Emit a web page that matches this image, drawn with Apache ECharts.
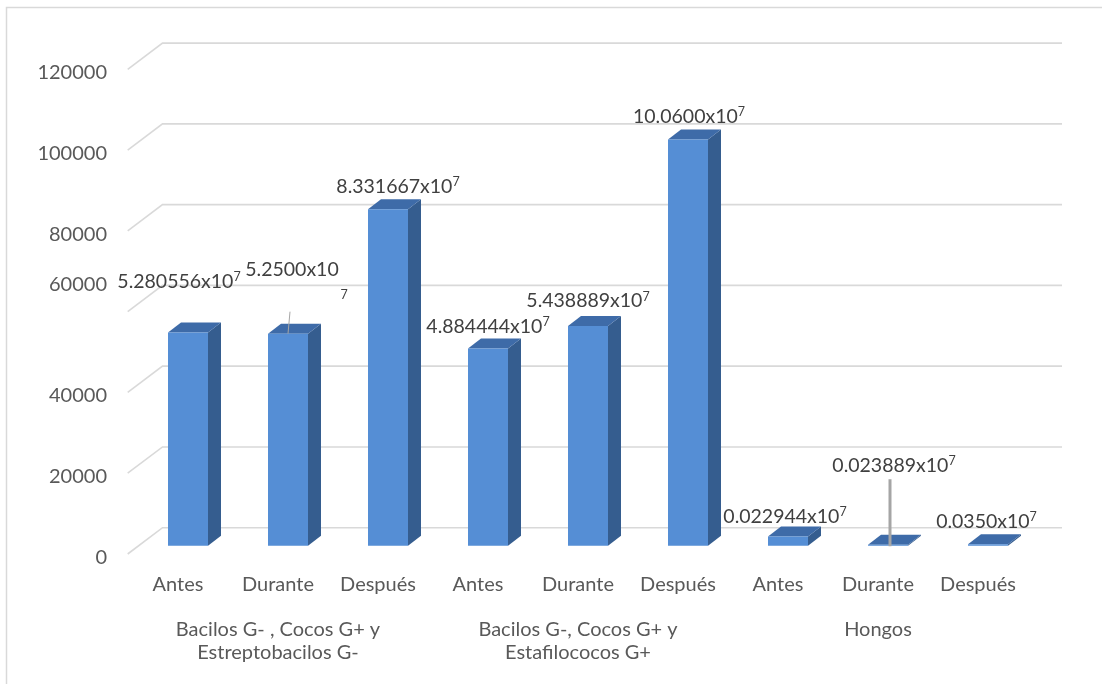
<!DOCTYPE html>
<html>
<head>
<meta charset="utf-8">
<script src="https://cdn.jsdelivr.net/npm/echarts@6/dist/echarts.min.js"></script>
<style>
  html, body { margin: 0; padding: 0; background: #ffffff; }
  #chart { width: 1102px; height: 684px; }
</style>
</head>
<body>
<div id="chart"></div>
<script>
// ---- data -------------------------------------------------------------
const categories = ['Antes', 'Durante', 'Después', 'Antes', 'Durante', 'Después', 'Antes', 'Durante', 'Después'];
const groups = ['Bacilos G- , Cocos G+ y\nEstreptobacilos G-', 'Bacilos G-, Cocos G+ y\nEstafilococos G+', 'Hongos'];
const values = [52805.56, 52500, 83316.67, 48844.44, 54388.89, 100600, 2294.44, 238.89, 350];
const labelMantissas = ['5.280556', '5.2500', '8.331667', '4.884444', '5.438889', '10.0600', '0.022944', '0.023889', '0.0350'];
const labelExponent = '7';
const yTicks = [0, 20000, 40000, 60000, 80000, 100000, 120000];

// ---- look & layout ----------------------------------------------------
const FONT = 'Lato, "Open Sans", sans-serif';
const TEXT_AXIS = '#595959';
const TEXT_LABEL = '#404040';
const GRID_COLOR = '#D9D9D9';
const FRONT = '#558ED5', TOP = '#3E6BA8', SIDE = '#355D8F';
const BAR_PLANE = -11.5;          // bars stand slightly behind the label plane
const DEPTH_X = 13, DEPTH_Y = 10; // bar extrusion
const WALL_FRONT = -3.2, WALL_BACK = -29.5, WALL_DX = 34.5, WALL_RIGHT = 934;
const AXIS_FONT = 20, LABEL_FONT = 19.5;
// per-label nudges (px) from the default spot above each bar
const labelLayout = [
  { dx: -9, dy: -27.5 },
  { dx: 4, dy: -27, wrap: true, leader: { from: [-2, 28], to: [0, 0], width: 1, color: '#A6A6A6' } },
  { dx: 10, dy: 0 },
  { dx: 0, dy: 1 },
  { dx: 0, dy: -2 },
  { dx: 1, dy: 0 },
  { dx: -3, dy: 3.5 },
  { dx: 6, dy: -56, leader: { from: [-4, 13.5], to: [2, 1.5], width: 3, color: '#A5A5A5' } },
  { dx: -1.5, dy: 0 }
];
const shiftedTick = 60000;

const barData = values.map((v, i) => [i, v]);
const tickData = yTicks.map(v => [0, v]);

const chart = echarts.init(document.getElementById('chart'), null, { renderer: 'canvas' });

const richLabel = {
  n: { fontSize: LABEL_FONT, lineHeight: 22, fontFamily: FONT, fill: TEXT_LABEL, color: TEXT_LABEL },
  s: { fontSize: 12.5, lineHeight: 16, verticalAlign: 'top', fontFamily: FONT, fill: TEXT_LABEL, color: TEXT_LABEL },
  p: { fontSize: LABEL_FONT, lineHeight: 28, width: 104, fontFamily: FONT, fill: TEXT_LABEL, color: TEXT_LABEL },
  s2: { fontSize: 12.5, lineHeight: 28, fontFamily: FONT, fill: TEXT_LABEL, color: TEXT_LABEL }
};

function renderBar(params, api) {
  const i = api.value(0);
  const v = api.value(1);
  const base = api.coord([i, 0]);
  const top = api.coord([i, v]);
  const slot = api.size([1, 0])[0];
  const w = slot * 0.4;
  const x0 = base[0] - slot * 0.1;
  const x1 = x0 + w;
  const yb = base[1] + BAR_PLANE;
  const yt = top[1] + BAR_PLANE;

  const children = [
    { type: 'polygon', shape: { points: [[x1, yb], [x1, yt], [x1 + DEPTH_X, yt - DEPTH_Y], [x1 + DEPTH_X, yb - DEPTH_Y]] },
      style: { fill: SIDE } },
    { type: 'polygon', shape: { points: [[x0, yt], [x1, yt], [x1 + DEPTH_X, yt - DEPTH_Y], [x0 + DEPTH_X, yt - DEPTH_Y]] },
      style: { fill: TOP } },
    { type: 'rect', shape: { x: x0, y: yt, width: w, height: Math.max(yb - yt, 0) },
      style: { fill: FRONT } }
  ];

  const lay = labelLayout[i];
  const m = labelMantissas[i];
  const text = lay.wrap
    ? '{n|' + m + 'x10}\n{p| }{s2|' + labelExponent + '}'
    : '{n|' + m + 'x10}{s|' + labelExponent + '}';
  const lx = x0 + w / 2 + lay.dx;
  const ly = yt - DEPTH_Y - 13 + lay.dy;

  if (lay.leader) {
    const L = lay.leader;
    children.push({
      type: 'line',
      shape: { x1: lx + L.from[0], y1: ly + L.from[1], x2: x0 + w / 2 + L.to[0], y2: yt + L.to[1] },
      style: { stroke: L.color, lineWidth: L.width }
    });
  }
  children.push({
    type: 'text',
    style: {
      text: text, rich: richLabel, x: lx, y: ly,
      align: 'center', verticalAlign: 'middle',
      fontFamily: FONT, fontSize: LABEL_FONT, fill: TEXT_LABEL
    }
  });
  return { type: 'group', children: children };
}

function renderWall(params, api) {
  const p = api.coord([0, api.value(1)]);
  const gx = params.coordSys.x;
  const y = p[1];
  return {
    type: 'polyline',
    shape: { points: [[gx - 0.3, y + WALL_FRONT], [gx + WALL_DX, y + WALL_BACK], [gx + WALL_RIGHT, y + WALL_BACK]] },
    style: { stroke: GRID_COLOR, lineWidth: 1.6, fill: null }
  };
}

const option = {
  backgroundColor: '#ffffff',
  animation: false,
  textStyle: { fontFamily: FONT },
  grid: { left: 128, right: 74, top: 72.6, bottom: 126.8, containLabel: false, outerBoundsMode: 'none' },
  graphic: [
    { type: 'polyline', silent: true, z: 0,
      shape: { points: [[6.5, 700], [6.5, 7.5], [1110, 7.5]] },
      style: { stroke: GRID_COLOR, lineWidth: 1.5, fill: null } }
  ],
  xAxis: [
    {
      type: 'category', data: categories, position: 'bottom',
      axisLine: { show: false }, axisTick: { show: false }, splitLine: { show: false },
      axisLabel: { interval: 0, margin: 16, fontSize: AXIS_FONT, lineHeight: 22, color: TEXT_AXIS, fontFamily: FONT }
    },
    {
      type: 'category', data: groups, position: 'bottom', offset: 53,
      axisLine: { show: false }, axisTick: { show: false }, splitLine: { show: false },
      axisLabel: { interval: 0, margin: 8, fontSize: AXIS_FONT, lineHeight: 23, color: TEXT_AXIS, fontFamily: FONT, align: 'center' }
    }
  ],
  yAxis: {
    type: 'value', min: 0, max: 120000, interval: 20000,
    axisLine: { show: false }, axisTick: { show: false }, splitLine: { show: false },
    axisLabel: {
      margin: 21, fontSize: AXIS_FONT, color: TEXT_AXIS, fontFamily: FONT,
      formatter: v => (v === shiftedTick ? '{up|' + v + '}' : String(v)),
      rich: { up: { fontSize: AXIS_FONT, color: TEXT_AXIS, fontFamily: FONT, padding: [0, 0, 60, 0] } }
    }
  },
  series: [
    { type: 'custom', name: 'wall', data: tickData, renderItem: renderWall, silent: true, z: 1 },
    { type: 'custom', name: 'valores', data: barData, renderItem: renderBar, z: 2 }
  ]
};

chart.setOption(option);
</script>
</body>
</html>
